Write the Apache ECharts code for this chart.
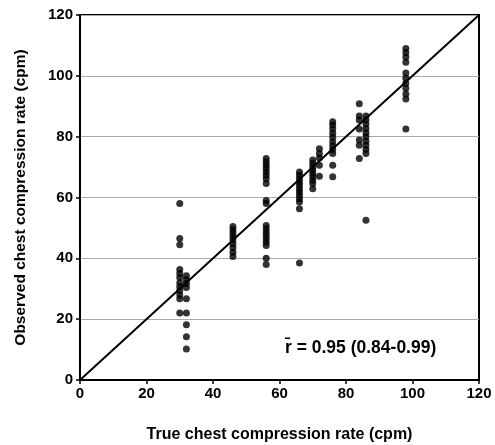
<!DOCTYPE html>
<html><head><meta charset="utf-8">
<script src="https://cdn.jsdelivr.net/npm/echarts@6/dist/echarts.min.js"></script>
<style>html,body{margin:0;padding:0;background:#fff}#c{width:495px;height:445px}</style>
</head><body><div id="c"></div>
<script>
const xTicks = [0,20,40,60,80,100,120];
const yTicks = [0,20,40,60,80,100,120];
const trueRates = [30, 32, 46, 56, 66, 70, 72, 76, 84, 86, 98];
const obs30 = [58, 46.5, 44.5, 36.3, 35, 33.7, 32, 30.7, 29.4, 28, 26.7, 22];
const obs32 = [34.3, 33, 31.7, 30.4, 26.7, 22, 18.2, 14.2, 10.2];
const obs46 = [50.5, 49.4, 48.3, 47.2, 46.1, 44.8, 43.5, 42, 40.6];
const obs56 = [72.8, 71.7, 70.6, 69.5, 68.4, 67.3, 66.2, 64.6, 59, 58, 50.8, 49.7, 48.6, 47.5, 46.4, 45.3, 44.2, 40, 38];
const obs66 = [68.4, 67.3, 66.2, 65.1, 64, 62.9, 61.8, 60.7, 59.6, 58.5, 56.3, 38.5];
const obs70 = [72.3, 71.2, 70.1, 69, 67.9, 66.8, 65.7, 64.6, 62.9];
const obs72 = [76, 74.5, 73, 70.6, 67];
const obs76 = [84.9, 83.8, 82.5, 81.1, 79.8, 78.3, 77, 75.8, 74.5, 70.6, 66.8];
const obs84 = [90.8, 86.8, 85.5, 82.5, 78.9, 77.2, 72.8];
const obs86 = [86.8, 85.5, 84.2, 82.7, 81.3, 80, 78.5, 77.2, 75.8, 74.5, 52.5];
const obs98 = [109, 107.7, 106.2, 104.5, 100.9, 99.2, 97.6, 95.9, 94, 92.4, 82.5];
const observedByRate = [obs30, obs32, obs46, obs56, obs66, obs70, obs72, obs76, obs84, obs86, obs98];
const identityLine = [[0, 0], [120, 120]];
const annotation = 'r\u0304 = 0.95 (0.84-0.99)';
const xTitle = 'True chest compression rate (cpm)';
const yTitle = 'Observed chest compression rate (cpm)';

const points = [];
trueRates.forEach((x, i) => observedByRate[i].forEach(y => points.push([x, y])));

const font = '"Liberation Sans", Arial, sans-serif';
const chart = echarts.init(document.getElementById('c'), null, {renderer: 'canvas'});
chart.setOption({
  animation: false,
  backgroundColor: '#fff',
  grid: {left: 80, right: 16, top: 15, bottom: 65, outerBoundsMode: 'none', containLabel: false,
    show: true, borderColor: '#000', borderWidth: 2, backgroundColor: 'transparent'},
  xAxis: {
    type: 'value', min: 0, max: 120, interval: 20,
    name: xTitle, nameLocation: 'middle', nameGap: 47,
    nameTextStyle: {fontFamily: font, fontWeight: 'bold', fontSize: 16, color: '#000'},
    axisLine: {lineStyle: {color: '#000', width: 2}},
    axisTick: {show: true, length: 4, inside: false, lineStyle: {color: '#000', width: 1.5}},
    axisLabel: {fontFamily: font, fontWeight: 'bold', fontSize: 15, color: '#000', margin: 6,
      formatter: v => xTicks.includes(v) ? String(v) : ''},
    splitLine: {show: false}
  },
  yAxis: {
    type: 'value', min: 0, max: 120, interval: 20,
    name: yTitle, nameLocation: 'middle', nameGap: 51,
    nameTextStyle: {fontFamily: font, fontWeight: 'bold', fontSize: 15.5, color: '#000'},
    axisLine: {lineStyle: {color: '#000', width: 2}},
    axisTick: {show: true, length: 4, inside: false, lineStyle: {color: '#000', width: 1.5}},
    axisLabel: {fontFamily: font, fontWeight: 'bold', fontSize: 15, color: '#000', margin: 7,
      formatter: v => yTicks.includes(v) ? String(v) : ''},
    splitLine: {show: true, lineStyle: {color: '#aaa', width: 1}}
  },
  series: [
    {type: 'line', data: identityLine, symbol: 'none', lineStyle: {color: '#000', width: 2}, z: 3},
    {type: 'scatter', data: points, symbol: 'circle', symbolSize: 7, itemStyle: {color: '#000'}, z: 4}
  ],
  graphic: [{
    type: 'text', left: 285, top: 339,
    style: {text: annotation, font: 'bold 17.5px ' + font, fill: '#000'}
  }]
});
</script></body></html>
